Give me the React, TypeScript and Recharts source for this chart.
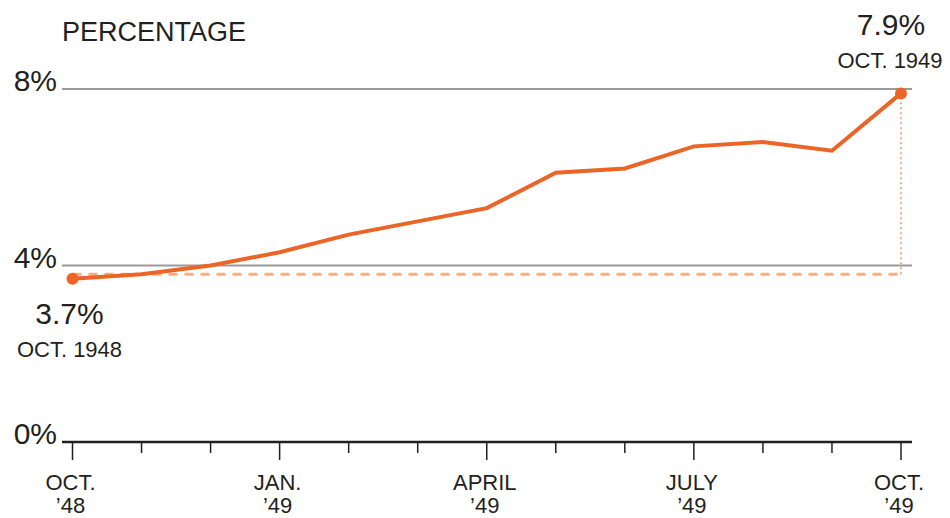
import React from 'react';
import {
  LineChart,
  Line,
  XAxis,
  YAxis,
  CartesianGrid,
  ReferenceLine,
  LabelList,
} from 'recharts';

const months = ['OCT 48', 'NOV', 'DEC', 'JAN', 'FEB', 'MAR', 'APR', 'MAY', 'JUN', 'JUL', 'AUG', 'SEP', 'OCT 49'];
const rates = [3.7, 3.8, 4.0, 4.3, 4.7, 5.0, 5.3, 6.1, 6.2, 6.7, 6.8, 6.6, 7.9];
const tickTop = ['OCT.', '', '', 'JAN.', '', '', 'APRIL', '', '', 'JULY', '', '', 'OCT.'];
const tickBottom = ['\u201948', '', '', '\u201949', '', '', '\u201949', '', '', '\u201949', '', '', '\u201949'];
const yTicks = [0, 4, 8];
const baseline = 3.8;
const startLabel = ['3.7%', 'OCT. 1948'];
const endLabel = ['7.9%', 'OCT. 1949'];

const data = months.map((m, i) => ({ i, month: m, rate: rates[i] }));

const FONT = '"Liberation Sans", Arial, Helvetica, sans-serif';
const ORANGE = '#ec6526';
const LIGHT = '#f6ad82';
const INK = '#231f20';

const XTick = (props: any) => {
  const { x, y, payload } = props;
  const idx = payload.value as number;
  const major = tickTop[idx] !== '';
  return (
    <g>
      <line x1={x} x2={x} y1={y} y2={y + (major ? 18 : 11)} stroke={INK} strokeWidth={1.5} />
      {major && (
        <text textAnchor="middle" fontFamily={FONT} fontSize={22} fill={INK}>
          <tspan x={x - 2} y={y + 48}>{tickTop[idx]}</tspan>
          <tspan x={x - 2} y={y + 71}>{tickBottom[idx]}</tspan>
        </text>
      )}
    </g>
  );
};

const YTick = (props: any) => {
  const { y, payload } = props;
  return (
    <text x={57} y={y + 2} textAnchor="end" fontFamily={FONT} fontSize={30} fill={INK}>
      {payload.value}%
    </text>
  );
};

const EndDot = (props: any) => {
  const { cx, cy, index } = props;
  if (index !== 0 && index !== rates.length - 1) return <g key={index} />;
  return <circle key={index} cx={cx} cy={cy} r={6} fill={ORANGE} />;
};

const EndLabel = (props: any) => {
  const { x, y, index } = props;
  if (index === 0) {
    return (
      <text textAnchor="middle" fontFamily={FONT} fill={INK}>
        <tspan x={x - 3} y={y + 45} fontSize={30}>{startLabel[0]}</tspan>
        <tspan x={x - 3} y={y + 78} fontSize={22}>{startLabel[1]}</tspan>
      </text>
    );
  }
  if (index === rates.length - 1) {
    return (
      <text textAnchor="middle" fontFamily={FONT} fill={INK}>
        <tspan x={x - 10} y={y - 58} fontSize={30}>{endLabel[0]}</tspan>
        <tspan x={x - 11} y={y - 25} fontSize={22}>{endLabel[1]}</tspan>
      </text>
    );
  }
  return null;
};

export default function App() {
  return (
    <div
      style={{
        position: 'fixed',
        left: 0,
        top: 0,
        width: 950,
        height: 518,
        overflow: 'hidden',
        background: '#fff',
      }}
    >
      <div
        style={{
          position: 'absolute',
          left: 62,
          top: 17,
          fontFamily: FONT,
          fontSize: 27,
          lineHeight: '30px',
          color: INK,
        }}
      >
        PERCENTAGE
      </div>
      <LineChart
        width={950}
        height={518}
        data={data}
        margin={{ top: 89, right: 38, left: 0, bottom: 16 }}
      >
        <CartesianGrid vertical={false} stroke="#9a9a9a" strokeWidth={2} />
        <XAxis
          dataKey="i"
          type="number"
          domain={[0, 12]}
          ticks={months.map((_, i) => i)}
          interval={0}
          padding={{ left: 10.5, right: 11 }}
          height={60}
          tickSize={0}
          tickMargin={0}
          tickLine={false}
          axisLine={{ stroke: INK, strokeWidth: 2.5 }}
          tick={<XTick />}
        />
        <YAxis
          domain={[0, 8]}
          ticks={yTicks}
          width={62}
          axisLine={false}
          tickLine={false}
          tick={<YTick />}
        />
        <ReferenceLine
          segment={[{ x: 0, y: baseline }, { x: 12, y: baseline }]}
          stroke={LIGHT}
          strokeWidth={3}
          strokeDasharray="9 7"
        />
        <ReferenceLine
          segment={[{ x: 12, y: baseline }, { x: 12, y: rates[rates.length - 1] }]}
          stroke={LIGHT}
          strokeWidth={2}
          strokeDasharray="2 3"
        />
        <Line
          dataKey="rate"
          stroke={ORANGE}
          strokeWidth={4}
          dot={EndDot}
          activeDot={false}
          isAnimationActive={false}
        >
          <LabelList dataKey="rate" content={EndLabel} />
        </Line>
      </LineChart>
    </div>
  );
}
